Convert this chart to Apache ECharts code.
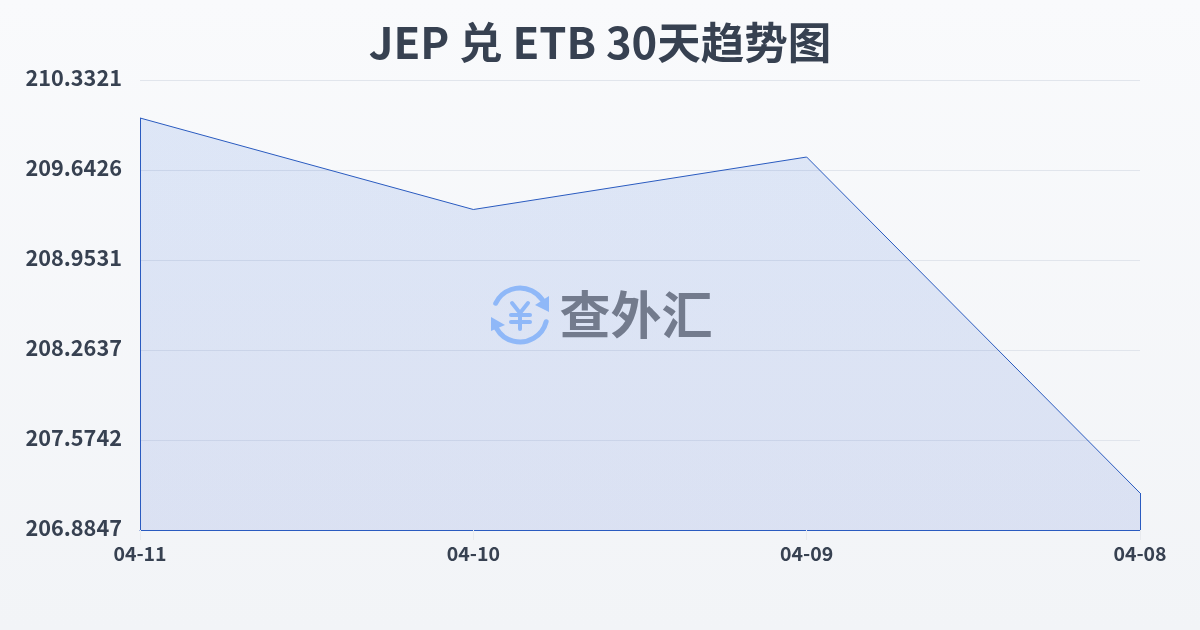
<!DOCTYPE html>
<html><head><meta charset="utf-8">
<style>html,body{margin:0;padding:0;background:#f6f7fa}#c{width:1200px;height:630px}</style>
<script src="https://cdn.jsdelivr.net/npm/echarts@6/dist/echarts.min.js"></script>
</head><body><div id="c"></div>
<script>
const categories = ['04-11','04-10','04-09','04-08'];
const values = [210.041, 209.340, 209.742, 207.168];
const yTicks = [206.8847, 207.5742, 208.2637, 208.9531, 209.6426, 210.3321];
const titleText = 'JEP 兑 ETB 30天趋势图';
const watermarkText = '查外汇';
const CJK = '"Noto Sans CJK SC",sans-serif';
const LINE = '#2a5bc0';
const INK = '#374151';
const yMin = yTicks[0], yMax = yTicks[yTicks.length-1];
const chart = echarts.init(document.getElementById('c'), null, {renderer:'canvas'});
const logo = '#8fb8f8';
const yenStroke = {stroke:logo,lineWidth:4,fill:null,lineCap:'round',lineJoin:'round'};
chart.setOption({
  animation:false,
  backgroundColor:{type:'linear',x:0,y:0,x2:0,y2:1,colorStops:[{offset:0,color:'#f9fafc'},{offset:1,color:'#f2f4f7'}]},
  title:{text:titleText,left:'center',top:16,textStyle:{fontFamily:CJK,fontSize:43.5,fontWeight:'bold',color:INK}},
  grid:{left:140,right:60,top:80,bottom:100},
  xAxis:{type:'category',boundaryGap:false,data:categories,
    axisLine:{show:true,lineStyle:{color:LINE,width:1}},
    axisTick:{show:true,length:10,lineStyle:{color:'#e8eaee'}},
    axisLabel:{interval:0,margin:14,color:INK,fontFamily:CJK,fontSize:19.5,fontWeight:'bold'}},
  yAxis:{type:'value',min:yMin,max:yMax,
    axisLine:{show:false},axisTick:{show:false,customValues:yTicks},
    splitLine:{show:true,lineStyle:{color:'#e1e5ec',width:1}},
    axisLabel:{customValues:yTicks,margin:18,color:INK,fontFamily:CJK,fontSize:21.7,fontWeight:'bold',verticalAlign:'bottom',lineHeight:5,
      formatter:v=>v.toFixed(4)}},
  series:[{type:'line',data:values,symbol:'none',smooth:false,
    lineStyle:{color:LINE,width:1},
    areaStyle:{color:{type:'linear',x:0,y:0,x2:0,y2:1,colorStops:[
      {offset:0,color:'rgba(37,99,215,0.175)'},{offset:1,color:'rgba(45,85,205,0.175)'}]},origin:'start'},
    markLine:{silent:true,symbol:'none',label:{show:false},
      lineStyle:{color:LINE,width:1,type:'solid'},
      data:[
        [{xAxis:categories[0],yAxis:yMin},{xAxis:categories[0],yAxis:values[0]}],
        [{xAxis:categories[3],yAxis:yMin},{xAxis:categories[3],yAxis:values[3]}]
      ]}
  }],
  graphic:[
    {type:'arc',z:50,shape:{cx:520,cy:315,r:27,startAngle:-2.69,endAngle:-0.6,clockwise:true},style:{stroke:logo,lineWidth:5,fill:null,lineCap:'round'}},
    {type:'arc',z:50,shape:{cx:520,cy:315,r:27,startAngle:0.25,endAngle:2.63,clockwise:true},style:{stroke:logo,lineWidth:5,fill:null,lineCap:'round'}},
    {type:'polygon',z:50,shape:{points:[[549,296],[549,312],[535,305]]},style:{fill:logo}},
    {type:'polygon',z:50,shape:{points:[[491,317],[491,331],[505,325]]},style:{fill:logo}},
    {type:'polyline',z:50,shape:{points:[[512,303],[520,313],[528,303]]},style:yenStroke},
    {type:'line',z:50,shape:{x1:520,y1:313,x2:520,y2:329},style:yenStroke},
    {type:'line',z:50,shape:{x1:511,y1:315,x2:530,y2:315},style:yenStroke},
    {type:'line',z:50,shape:{x1:511,y1:322,x2:530,y2:322},style:yenStroke},
    {type:'text',z:50,style:{text:watermarkText,x:636,y:315,align:'center',verticalAlign:'middle',fill:'#737b8d',fontFamily:CJK,fontSize:51,fontWeight:'bold'}}
  ]
});
</script></body></html>
